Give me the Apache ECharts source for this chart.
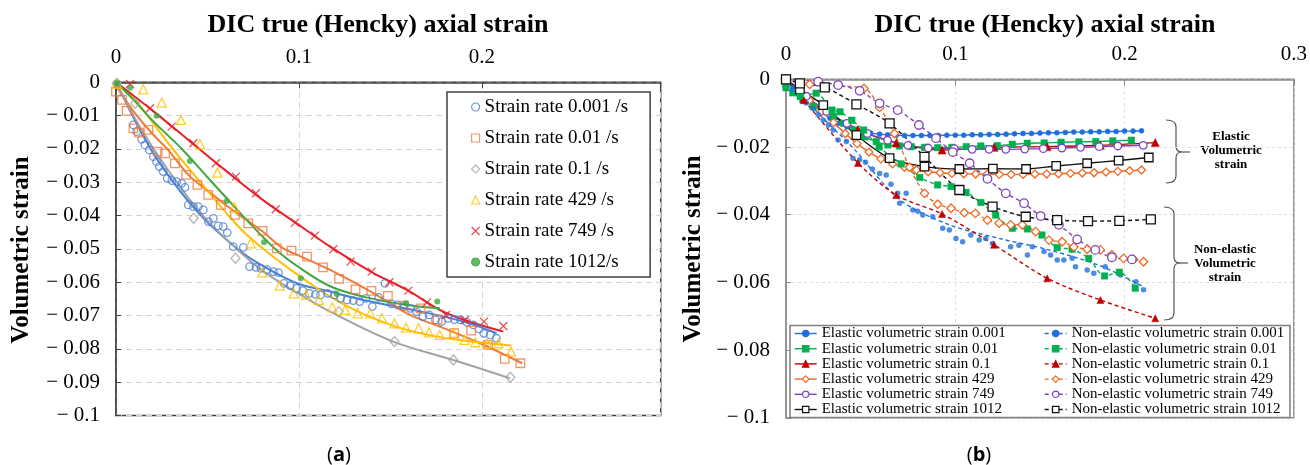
<!DOCTYPE html>
<html><head><meta charset="utf-8">
<script src="https://cdn.jsdelivr.net/npm/echarts@6/dist/echarts.min.js"></script>
<style>html,body{margin:0;padding:0;background:#fff}#c{width:1310px;height:465px}</style>
</head><body><div id="c"></div>
<script>
// ---------- Panel (a) data ----------
const aNames = ['Strain rate 0.001 /s','Strain rate 0.01 /s','Strain rate 0.1 /s','Strain rate 429 /s','Strain rate 749 /s','Strain rate 1012/s'];
const aXTicks = [0, 0.1, 0.2];
const aPts0001 = [[0.0005,-0.0005],[0.0095,-0.0128],[0.0113,-0.0148],[0.014,-0.0171],[0.0158,-0.0188],[0.0182,-0.0203],[0.0204,-0.0223],[0.0222,-0.0238],[0.0237,-0.0253],[0.0258,-0.0268],[0.028,-0.0288],[0.0305,-0.0295],[0.0332,-0.0298],[0.0359,-0.0303],[0.0377,-0.0315],[0.0395,-0.0368],[0.0423,-0.0373],[0.045,-0.0373],[0.0477,-0.0383],[0.0505,-0.0418],[0.0532,-0.0408],[0.0559,-0.0431],[0.0586,-0.0433],[0.0608,-0.0451],[0.0641,-0.0493],[0.0696,-0.0495],[0.073,-0.0553],[0.0765,-0.0555],[0.0792,-0.0558],[0.0825,-0.0562],[0.0861,-0.0568],[0.0888,-0.0571],[0.0918,-0.0603],[0.0952,-0.061],[0.0987,-0.0618],[0.1021,-0.0625],[0.1056,-0.0633],[0.109,-0.0636],[0.1118,-0.0638],[0.1158,-0.0633],[0.1194,-0.0638],[0.1228,-0.0648],[0.1263,-0.0653],[0.1297,-0.0655],[0.1332,-0.0658],[0.1366,-0.0648],[0.1401,-0.0673],[0.1436,-0.0645],[0.147,-0.0603],[0.1505,-0.0665],[0.1539,-0.0668],[0.1573,-0.0672],[0.1608,-0.0678],[0.1642,-0.0688],[0.1677,-0.0703],[0.1711,-0.0698],[0.1746,-0.0713],[0.178,-0.0718],[0.1815,-0.0708],[0.185,-0.0712],[0.1884,-0.0713],[0.1918,-0.072],[0.1953,-0.0728],[0.1985,-0.074],[0.201,-0.0753],[0.2045,-0.0758],[0.2079,-0.0768]];
const aFit0001 = [[0,0],[0.01,-0.011],[0.02,-0.021],[0.03,-0.029],[0.04,-0.036],[0.05,-0.042],[0.06,-0.047],[0.07,-0.0515],[0.08,-0.055],[0.09,-0.058],[0.1,-0.0605],[0.117,-0.0628],[0.135,-0.0653],[0.1625,-0.0683],[0.19,-0.0718],[0.208,-0.0753]];
const aPts001 = [[0,-0.0028],[0.0033,-0.0053],[0.0058,-0.0086],[0.0095,-0.0138],[0.0125,-0.0151],[0.0177,-0.0143],[0.0228,-0.0208],[0.0268,-0.0213],[0.0322,-0.0243],[0.0383,-0.0278],[0.0445,-0.0308],[0.0504,-0.0338],[0.0573,-0.0368],[0.065,-0.0398],[0.0723,-0.0423],[0.0801,-0.0446],[0.0879,-0.0498],[0.0959,-0.0505],[0.1044,-0.0523],[0.1132,-0.0555],[0.1219,-0.059],[0.1309,-0.0621],[0.1396,-0.0626],[0.1486,-0.0641],[0.1573,-0.067],[0.1665,-0.0678],[0.1757,-0.0711],[0.1849,-0.0753],[0.1941,-0.0745],[0.2033,-0.0788],[0.2125,-0.083],[0.221,-0.0843]];
const aFit001 = [[0,-0.001],[0.01,-0.009],[0.02,-0.0155],[0.028,-0.02],[0.04,-0.028],[0.05,-0.0325],[0.06,-0.0368],[0.07,-0.0408],[0.08,-0.0447],[0.091,-0.0497],[0.1,-0.052],[0.117,-0.0563],[0.14,-0.063],[0.159,-0.0693],[0.18,-0.074],[0.199,-0.0783],[0.222,-0.0843]];
const aPts01 = [[0.0005,-0.0003],[0.0105,-0.0063],[0.0424,-0.0408],[0.0653,-0.0528],[0.1217,-0.0688],[0.1522,-0.0778],[0.1844,-0.0833],[0.2155,-0.0885]];
const aFit01 = [[0,0],[0.01,-0.0105],[0.02,-0.0195],[0.03,-0.0275],[0.04,-0.035],[0.05,-0.0415],[0.064,-0.049],[0.08,-0.0565],[0.1,-0.0635],[0.117,-0.0688],[0.1515,-0.0778],[0.1843,-0.0833],[0.2153,-0.0888]];
const aPts429 = [[0.0005,-0.0005],[0.0149,-0.0021],[0.025,-0.0061],[0.0355,-0.0113],[0.0459,-0.0186],[0.0554,-0.0271],[0.0647,-0.0375],[0.0736,-0.0483],[0.08,-0.057],[0.0895,-0.061],[0.0971,-0.0633],[0.104,-0.0638],[0.1109,-0.0653],[0.1183,-0.0675],[0.1252,-0.0683],[0.1321,-0.0693],[0.139,-0.0693],[0.1454,-0.0708],[0.1522,-0.0723],[0.1585,-0.0736],[0.1654,-0.0738],[0.1711,-0.075],[0.1769,-0.0758],[0.1844,-0.0753],[0.1906,-0.0773],[0.1964,-0.078],[0.2028,-0.0783],[0.209,-0.0783],[0.2159,-0.0808]];
const aFit429 = [[0,0],[0.01,-0.005],[0.02,-0.012],[0.031,-0.02],[0.04,-0.026],[0.05,-0.0325],[0.06,-0.039],[0.07,-0.045],[0.084,-0.0515],[0.1,-0.058],[0.117,-0.0643],[0.135,-0.0695],[0.153,-0.0733],[0.17,-0.0757],[0.19,-0.0775],[0.216,-0.079]];
const aPts749 = [[0.0077,-0.0005],[0.0186,-0.0078],[0.0304,-0.0133],[0.0423,-0.0183],[0.0546,-0.0243],[0.0656,-0.0283],[0.0765,-0.0333],[0.0873,-0.0381],[0.0978,-0.0421],[0.1087,-0.046],[0.1188,-0.0501],[0.1282,-0.0538],[0.1397,-0.0568],[0.1494,-0.06],[0.1598,-0.0625],[0.1698,-0.0661],[0.1803,-0.0698],[0.1907,-0.0713],[0.2011,-0.0718],[0.2117,-0.0731]];
const aFit749 = [[0,0],[0.02,-0.0085],[0.04,-0.0175],[0.06,-0.0265],[0.08,-0.0352],[0.1,-0.0428],[0.117,-0.0493],[0.14,-0.057],[0.159,-0.0623],[0.1807,-0.0693],[0.2117,-0.0748]];
const aPts1012 = [[0.0005,-0.0003],[0.0077,-0.0016],[0.0222,-0.01],[0.0404,-0.0236],[0.0605,-0.0356],[0.0809,-0.048],[0.101,-0.0588],[0.1206,-0.0635],[0.1585,-0.0663],[0.1756,-0.0658]];
const aFit1012 = [[0,0],[0.01,-0.0055],[0.02,-0.0115],[0.036,-0.02],[0.05,-0.0285],[0.06,-0.0345],[0.07,-0.0405],[0.087,-0.05],[0.1,-0.0555],[0.117,-0.0612],[0.135,-0.0643],[0.159,-0.0668],[0.177,-0.0678]];

// ---------- Panel (b) data ----------
const bElasticNames = ['Elastic volumetric strain 0.001','Elastic volumetric strain 0.01','Elastic volumetric strain 0.1','Elastic volumetric strain 429','Elastic volumetric strain 749','Elastic volumetric strain 1012'];
const bNonNames = ['Non-elastic volumetric strain 0.001','Non-elastic volumetric strain 0.01','Non-elastic volumetric strain 0.1','Non-elastic volumetric strain 429','Non-elastic volumetric strain 749','Non-elastic volumetric strain 1012'];
const bXTicks = [0, 0.1, 0.2, 0.3];
const bE0001 = [[0,0],[0.004,-0.0025],[0.008,-0.0045],[0.012,-0.006],[0.016,-0.0076],[0.021,-0.0095],[0.026,-0.0115],[0.031,-0.013],[0.036,-0.014],[0.041,-0.0148],[0.0455,-0.0155],[0.05,-0.0159],[0.0553,-0.0162],[0.06,-0.0164],[0.0651,-0.0165],[0.07,-0.0166],[0.075,-0.0166],[0.08,-0.0166],[0.085,-0.0166],[0.09,-0.0166],[0.095,-0.0165],[0.1,-0.0165],[0.105,-0.0165],[0.11,-0.0164],[0.115,-0.0164],[0.12,-0.0163],[0.125,-0.0163],[0.13,-0.0162],[0.135,-0.0161],[0.14,-0.016],[0.145,-0.016],[0.15,-0.0159],[0.155,-0.0158],[0.16,-0.0158],[0.165,-0.0157],[0.17,-0.0156],[0.175,-0.0156],[0.18,-0.0155],[0.185,-0.0155],[0.19,-0.0154],[0.195,-0.0154],[0.2,-0.0153],[0.205,-0.0153],[0.21,-0.0152]];
const bN0001 = [[0,0],[0.004,-0.003],[0.0082,-0.0051],[0.012,-0.007],[0.016,-0.0086],[0.019,-0.0105],[0.022,-0.012],[0.025,-0.0135],[0.0278,-0.015],[0.0308,-0.0179],[0.0357,-0.0184],[0.0396,-0.0233],[0.0435,-0.0238],[0.047,-0.0245],[0.051,-0.0265],[0.0553,-0.0278],[0.0592,-0.0283],[0.062,-0.031],[0.066,-0.0337],[0.0671,-0.0366],[0.071,-0.0337],[0.0749,-0.0386],[0.0778,-0.039],[0.0808,-0.0401],[0.0867,-0.0406],[0.0926,-0.044],[0.0965,-0.0445],[0.1004,-0.047],[0.1043,-0.048],[0.1092,-0.046],[0.1141,-0.0475],[0.118,-0.047],[0.122,-0.0485],[0.1327,-0.0495],[0.1376,-0.049],[0.1426,-0.0519],[0.1455,-0.0495],[0.1524,-0.0509],[0.1563,-0.0519],[0.1602,-0.0534],[0.1641,-0.0534],[0.169,-0.0529],[0.171,-0.0554],[0.1779,-0.0563],[0.1818,-0.0573],[0.1886,-0.0554],[0.1975,-0.0578],[0.2067,-0.0598],[0.2112,-0.0622]];
const bN0001Trend = [[0,0],[0.02,-0.0105],[0.04,-0.0205],[0.067,-0.0355],[0.0965,-0.043],[0.1259,-0.047],[0.1553,-0.0504],[0.1847,-0.0549],[0.2112,-0.0613]];
const bE001 = [[0,-0.0025],[0.004,-0.004],[0.01,-0.006],[0.016,-0.008],[0.022,-0.0095],[0.028,-0.011],[0.034,-0.013],[0.0406,-0.015],[0.0465,-0.017],[0.0533,-0.0184],[0.0602,-0.0194],[0.067,-0.0197],[0.074,-0.0199],[0.0818,-0.0201],[0.0896,-0.0202],[0.098,-0.0201],[0.1065,-0.0199],[0.1151,-0.0197],[0.1249,-0.0196],[0.1337,-0.0192],[0.1425,-0.0189],[0.1525,-0.0188],[0.1625,-0.0186],[0.173,-0.0185],[0.183,-0.0184],[0.193,-0.0182],[0.204,-0.018]];
const bN001 = [[0,-0.0015],[0.0084,-0.0051],[0.0178,-0.0041],[0.0272,-0.0091],[0.0319,-0.0096],[0.0389,-0.0121],[0.0459,-0.015],[0.055,-0.02],[0.068,-0.025],[0.079,-0.029],[0.0896,-0.0312],[0.0975,-0.0317],[0.1063,-0.0334],[0.1151,-0.0364],[0.1239,-0.0401],[0.1337,-0.044],[0.1426,-0.0442],[0.1512,-0.046],[0.1602,-0.0497],[0.169,-0.0502],[0.1788,-0.0529],[0.1882,-0.0581],[0.1969,-0.057],[0.2063,-0.0617]];
const bE01 = [[0,0],[0.0106,-0.0055],[0.0425,-0.0148],[0.0651,-0.0188],[0.0922,-0.0209],[0.1229,-0.0201],[0.1543,-0.0199],[0.1857,-0.0195],[0.2181,-0.0187]];
const bN01 = [[0,0],[0.0106,-0.0062],[0.0425,-0.0247],[0.0651,-0.0342],[0.0922,-0.0398],[0.1229,-0.0489],[0.1543,-0.0588],[0.1857,-0.0652],[0.2181,-0.0706]];
const bE429 = [[0,0],[0.007,-0.003],[0.014,-0.0062],[0.021,-0.0095],[0.028,-0.0128],[0.035,-0.016],[0.042,-0.019],[0.049,-0.0215],[0.056,-0.0235],[0.063,-0.025],[0.07,-0.026],[0.077,-0.0268],[0.084,-0.0273],[0.091,-0.0276],[0.098,-0.0278],[0.105,-0.0279],[0.112,-0.028],[0.119,-0.028],[0.126,-0.0281],[0.133,-0.0281],[0.14,-0.0281],[0.147,-0.028],[0.154,-0.028],[0.161,-0.0279],[0.168,-0.0278],[0.175,-0.0277],[0.182,-0.0276],[0.189,-0.0274],[0.196,-0.0272],[0.203,-0.027],[0.21,-0.0268]];
const bN429 = [[0,0],[0.007,0.0004],[0.014,-0.0015],[0.0461,-0.0027],[0.0553,-0.0083],[0.064,-0.016],[0.073,-0.026],[0.0818,-0.0337],[0.0896,-0.0369],[0.0975,-0.0381],[0.1053,-0.0394],[0.1118,-0.0396],[0.119,-0.0416],[0.1259,-0.0425],[0.1327,-0.043],[0.1396,-0.043],[0.1475,-0.045],[0.1553,-0.0475],[0.1631,-0.048],[0.17,-0.0495],[0.1779,-0.0502],[0.1857,-0.0504],[0.1925,-0.0519],[0.1994,-0.0529],[0.2053,-0.0532],[0.2112,-0.0539]];
const bE749 = [[0,0],[0.012,-0.005],[0.024,-0.0095],[0.036,-0.013],[0.048,-0.016],[0.06,-0.018],[0.072,-0.0195],[0.084,-0.0203],[0.0994,-0.0205],[0.11,-0.0207],[0.12,-0.0207],[0.1298,-0.0207],[0.141,-0.0206],[0.152,-0.0205],[0.163,-0.0203],[0.174,-0.0201],[0.185,-0.0199],[0.196,-0.0197],[0.211,-0.0195]];
const bN749 = [[0,0],[0.019,-0.0007],[0.0308,-0.0017],[0.0435,-0.0034],[0.0553,-0.0071],[0.066,-0.0091],[0.0785,-0.0135],[0.0886,-0.0174],[0.0985,-0.0215],[0.1085,-0.0248],[0.119,-0.0294],[0.1298,-0.0337],[0.1406,-0.0366],[0.1504,-0.0404],[0.1612,-0.043],[0.172,-0.0473],[0.1827,-0.0504],[0.1925,-0.0526],[0.2043,-0.0532]];
const bE1012 = [[0,0],[0.0082,-0.003],[0.022,-0.0076],[0.0416,-0.0165],[0.0612,-0.0233],[0.0818,-0.0258],[0.1024,-0.0265],[0.1222,-0.0264],[0.1418,-0.0265],[0.1596,-0.0256],[0.1779,-0.0248],[0.1965,-0.024],[0.2143,-0.0231]];
const bN1012 = [[0,0],[0.0082,-0.0012],[0.0229,-0.0024],[0.0416,-0.0074],[0.0612,-0.013],[0.0818,-0.0229],[0.1024,-0.0327],[0.122,-0.0376],[0.1416,-0.0406],[0.1602,-0.0416],[0.1784,-0.0419],[0.1969,-0.0418],[0.2155,-0.0414]];

// ---------- styling ----------
const SERIF = '"Liberation Serif","Times New Roman",serif';
const cA = {blue:'#4a7fd6', orange:'#f07a3a', gray:'#a3a3a3', yellow:'#ffc000', red:'#e8202a', green:'#3da83d'};
const cB = {blue:'#1f6fdb', green:'#00b050', red:'#c00000', orange:'#ee6a24', purple:'#7e44c0', black:'#111111'};
const CROSS = 'path://M0,0L10,10M10,0L0,10';

function yFmt(v){ if (Math.abs(v) < 1e-9) return '0'; return '\u2212 ' + parseFloat(Math.abs(v).toFixed(3)); }
function xFmt(ticks){ return function(v){ for (const t of ticks){ if (Math.abs(v - t) < 1e-6) return t === 0 ? '0' : String(t); } return ''; }; }

function scatterA(name, data, symbol, size, color, filled){
  return {type:'scatter', name, data, xAxisIndex:0, yAxisIndex:0, symbol, symbolSize:size, z:3,
    itemStyle: filled ? {color, borderColor:color, borderWidth:0} : {color:'rgba(255,255,255,0)', borderColor:color, borderWidth:1.3}};
}
function fitA(data, color){
  return {type:'line', name:'fit', data, xAxisIndex:0, yAxisIndex:0, smooth:0.35, showSymbol:false, symbol:'none', z:2,
    lineStyle:{color, width:2}};
}
function lineB(name, data, symbol, size, color, filled, dashed, showSym){
  return {type:'line', name, data, xAxisIndex:1, yAxisIndex:1, smooth:0.3, symbol, symbolSize:size,
    showSymbol: showSym !== false, z:3,
    lineStyle:{color, width:1.4, type: dashed ? [4,3] : 'solid'},
    itemStyle: filled ? {color, borderColor:color, borderWidth:0.5} : {color:'#ffffff', borderColor:color, borderWidth:1.3}};
}
// curly brace annotation built from simple graphic primitives
function brace(xL, xM, yT, yM, yB){
  const st = {stroke:'#555', lineWidth:1.2, fill:null};
  const r = 7;
  return [
    {type:'bezierCurve', shape:{x1:xL, y1:yT, cpx1:xM, cpy1:yT, x2:xM, y2:yT+r}, style:st},
    {type:'line', shape:{x1:xM, y1:yT+r, x2:xM, y2:yM-6}, style:st},
    {type:'bezierCurve', shape:{x1:xM, y1:yM-6, cpx1:xM, cpy1:yM, x2:xM+6, y2:yM}, style:st},
    {type:'bezierCurve', shape:{x1:xM+6, y1:yM, cpx1:xM, cpy1:yM, x2:xM, y2:yM+6}, style:st},
    {type:'line', shape:{x1:xM, y1:yM+6, x2:xM, y2:yB-r}, style:st},
    {type:'bezierCurve', shape:{x1:xM, y1:yB-r, cpx1:xM, cpy1:yB, x2:xL, y2:yB}, style:st},
    {type:'line', shape:{x1:xM+6, y1:yM, x2:xM+14, y2:yM}, style:st}
  ];
}

const axisLbl = {fontFamily:SERIF, fontSize:21, color:'#000'};

const option = {
  animation:false,
  backgroundColor:'#fff',
  grid:[
    {left:116, top:82.3, width:544.7, height:333.3, show:true, borderColor:'#404040', borderWidth:1.5, backgroundColor:'transparent'},
    {left:786, top:79.3, width:510, height:338.5, show:true, borderColor:'#8a8a8a', borderWidth:1.5, backgroundColor:'transparent'}
  ],
  xAxis:[
    {type:'value', gridIndex:0, position:'top', min:0, max:0.2977, interval:0.1,
     axisLine:{show:true, onZero:false, lineStyle:{color:'#404040', width:1.5}},
     axisTick:{show:true, inside:true, length:6, lineStyle:{color:'#404040'}},
     axisLabel:Object.assign({margin:14, formatter:xFmt(aXTicks)}, axisLbl),
     splitLine:{show:true, lineStyle:{color:'#d4d4d4', type:[6,4], width:1}}},
    {type:'value', gridIndex:1, position:'top', min:0, max:0.3, interval:0.1,
     axisLine:{show:true, onZero:false, lineStyle:{color:'#8a8a8a', width:1.5}},
     axisTick:{show:true, inside:true, length:6, lineStyle:{color:'#8a8a8a'}},
     axisLabel:Object.assign({margin:14, formatter:xFmt(bXTicks)}, axisLbl),
     splitLine:{show:true, lineStyle:{color:'#dedede', type:[3,3], width:1}}}
  ],
  yAxis:[
    {type:'value', gridIndex:0, min:-0.1, max:0, interval:0.01,
     axisLine:{show:true, onZero:false, lineStyle:{color:'#404040', width:1.5}},
     axisTick:{show:true, inside:true, length:5, lineStyle:{color:'#404040'}},
     axisLabel:Object.assign({margin:16, formatter:yFmt}, axisLbl),
     splitLine:{show:true, lineStyle:{color:'#d4d4d4', type:[6,4], width:1}}},
    {type:'value', gridIndex:1, min:-0.1, max:0, interval:0.02,
     axisLine:{show:true, onZero:false, lineStyle:{color:'#8a8a8a', width:1.5}},
     axisTick:{show:true, inside:true, length:5, lineStyle:{color:'#8a8a8a'}},
     axisLabel:Object.assign({margin:16, formatter:yFmt}, axisLbl),
     splitLine:{show:true, lineStyle:{color:'#dedede', type:[3,3], width:1}}}
  ],
  legend:[
    {orient:'vertical', left:447, top:92, padding:[5,22,5,24], itemWidth:8, itemHeight:8, itemGap:11,
     borderColor:'#404040', borderWidth:1.5, backgroundColor:'#fff', selectedMode:false,
     textStyle:{fontFamily:SERIF, fontSize:19, lineHeight:20, color:'#000'},
     itemStyle:{borderWidth:1.2}, data:aNames},
    {orient:'vertical', left:794, top:326, padding:0, itemWidth:22, itemHeight:8, itemGap:0.2, selectedMode:false,
     textStyle:{fontFamily:SERIF, fontSize:15, lineHeight:15, color:'#000'},
     itemStyle:{borderWidth:1.2}, lineStyle:{width:1.4}, data:bElasticNames},
    {orient:'vertical', left:1044, top:326, padding:0, itemWidth:22, itemHeight:8, itemGap:0.2, selectedMode:false,
     textStyle:{fontFamily:SERIF, fontSize:15, lineHeight:15, color:'#000'},
     itemStyle:{borderWidth:1.2}, lineStyle:{width:1.4}, data:bNonNames}
  ],
  graphic:[
    {type:'text', x:378, y:25, style:{text:'DIC true (Hencky) axial strain', font:'bold 26px '+SERIF, fill:'#000', textAlign:'center', textVerticalAlign:'middle'}},
    {type:'text', x:1045, y:25, style:{text:'DIC true (Hencky) axial strain', font:'bold 26px '+SERIF, fill:'#000', textAlign:'center', textVerticalAlign:'middle'}},
    {type:'text', x:22, y:250, rotation:Math.PI/2, style:{text:'Volumetric strain', font:'bold 25px '+SERIF, fill:'#000', textAlign:'center', textVerticalAlign:'middle'}},
    {type:'text', x:694, y:249, rotation:Math.PI/2, style:{text:'Volumetric strain', font:'bold 25px '+SERIF, fill:'#000', textAlign:'center', textVerticalAlign:'middle'}},
    {type:'text', x:339, y:455, style:{text:'{p|(}{b|a}{p|)}', textAlign:'center', textVerticalAlign:'middle',
      rich:{p:{font:'20px "Open Sans"', fill:'#000'}, b:{font:'bold 20px "Open Sans"', fill:'#000'}}}},
    {type:'text', x:979, y:455, style:{text:'{p|(}{b|b}{p|)}', textAlign:'center', textVerticalAlign:'middle',
      rich:{p:{font:'20px "Open Sans"', fill:'#000'}, b:{font:'bold 20px "Open Sans"', fill:'#000'}}}},
    {type:'rect', z:3, shape:{x:790, y:325.5, width:500, height:92}, style:{fill:'#fff', stroke:'#808080', lineWidth:1.5}},
    {type:'text', x:1231, y:150.5, style:{text:'Elastic\nVolumetric\nstrain', font:'bold 13px '+SERIF, lineHeight:14, fill:'#000', textAlign:'center', textVerticalAlign:'middle'}},
    {type:'text', x:1225, y:263.5, style:{text:'Non-elastic\nVolumetric\nstrain', font:'bold 13px '+SERIF, lineHeight:14, fill:'#000', textAlign:'center', textVerticalAlign:'middle'}}
  ].concat(brace(1166, 1176, 120, 152, 183)).concat(brace(1164, 1174, 207, 263, 320)),
  series:[
    fitA(aFit0001, cA.blue), fitA(aFit001, cA.orange), fitA(aFit01, cA.gray),
    fitA(aFit429, cA.yellow), fitA(aFit749, cA.red), fitA(aFit1012, cA.green),
    scatterA(aNames[0], aPts0001, 'circle', 7.5, cA.blue, false),
    scatterA(aNames[1], aPts001, 'rect', 8.5, cA.orange, false),
    scatterA(aNames[2], aPts01, 'diamond', [9,10], cA.gray, false),
    scatterA(aNames[3], aPts429, 'triangle', 9, cA.yellow, false),
    scatterA(aNames[4], aPts749, CROSS, 8, cA.red, false),
    scatterA(aNames[5], aPts1012, 'circle', 6, cA.green, true),

    lineB(bElasticNames[0], bE0001, 'circle', 5, cB.blue, true, false),
    lineB(bElasticNames[1], bE001, 'rect', 6.5, cB.green, true, false),
    lineB(bElasticNames[2], bE01, 'triangle', 8, cB.red, true, false),
    lineB(bElasticNames[3], bE429, 'diamond', 8, cB.orange, false, false),
    lineB(bElasticNames[4], bE749, 'circle', 7.5, cB.purple, false, false),
    lineB(bElasticNames[5], bE1012, 'rect', 8.5, cB.black, false, false),
    lineB(bNonNames[0], bN0001Trend, 'circle', 5, cB.blue, true, true, false),
    {type:'scatter', name:'pts', data:bN0001, xAxisIndex:1, yAxisIndex:1, symbol:'circle', symbolSize:5.5, z:3, itemStyle:{color:cB.blue}},
    lineB(bNonNames[1], bN001, 'rect', 6.5, cB.green, true, true),
    lineB(bNonNames[2], bN01, 'triangle', 7, cB.red, true, true),
    lineB(bNonNames[3], bN429, 'diamond', 8.5, cB.orange, false, true),
    lineB(bNonNames[4], bN749, 'circle', 8.5, cB.purple, false, true),
    lineB(bNonNames[5], bN1012, 'rect', 9, cB.black, false, true)
  ]
};
const chart = echarts.init(document.getElementById('c'), null, {renderer:'canvas'});
chart.setOption(option);
</script></body></html>
